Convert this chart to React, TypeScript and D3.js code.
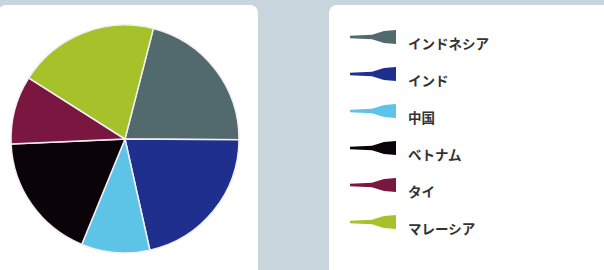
import React, { useEffect, useRef } from 'react';
import * as d3 from 'd3';

const countries = ['インドネシア', 'インド', '中国', 'ベトナム', 'タイ', 'マレーシア'];
const shares = [21.1, 21.4, 9.7, 18.1, 9.7, 20.0];
const colors = ['#52696d', '#1f2f8e', '#5dc3e7', '#0a0308', '#7a1741', '#a5c22b'];

const W = 604;
const H = 270;

export default function App() {
  const ref = useRef<SVGSVGElement>(null);

  useEffect(() => {
    const svg = d3.select(ref.current);
    svg.selectAll('*').remove();

    svg.append('rect').attr('width', W).attr('height', H).attr('fill', '#c8d5dc');

    // cards
    svg.append('rect')
      .attr('x', -2).attr('y', 5).attr('width', 260).attr('height', 290)
      .attr('rx', 8).attr('fill', '#ffffff');
    svg.append('rect')
      .attr('x', 329).attr('y', 5).attr('width', 300).attr('height', 290)
      .attr('rx', 8).attr('fill', '#ffffff');

    const data = countries.map((name, i) => ({ name, value: shares[i], color: colors[i] }));

    const pie = d3.pie<any>()
      .sort(null)
      .value(d => d.value)
      .startAngle(0.2513)
      .endAngle(0.2513 + Math.PI * 2);

    const arc = d3.arc<any>().innerRadius(0).outerRadius(114);

    const g = svg.append('g').attr('transform', 'translate(125,139)');
    g.selectAll('path')
      .data(pie(data))
      .enter()
      .append('path')
      .attr('d', arc)
      .attr('fill', d => d.data.color)
      .attr('stroke', '#f3eef2')
      .attr('stroke-width', 1.5);

    // legend
    const y = d3.scalePoint<string>().domain(countries).range([37, 222]);
    const marker = d3.line();
    const legend = svg.append('g');
    data.forEach(d => {
      const c = y(d.name) as number;
      legend.append('path')
        .attr('d', marker([
          [350, c - 1.2], [372, c - 2.2], [384, c - 6], [396, c - 7],
          [396, c + 7], [384, c + 6], [372, c + 2.2], [350, c + 1.2],
        ]) + 'Z')
        .attr('fill', d.color);
      legend.append('text')
        .attr('x', 408)
        .attr('y', c + 12)
        .attr('font-family', '"Noto Sans CJK JP", sans-serif')
        .attr('font-size', 13.5)
        .attr('font-weight', 'bold')
        .attr('fill', '#333333')
        .text(d.name);
    });
  }, []);

  return (
    <svg
      ref={ref}
      width={W}
      height={H}
      style={{ position: 'fixed', left: 0, top: 0, display: 'block' }}
    />
  );
}
